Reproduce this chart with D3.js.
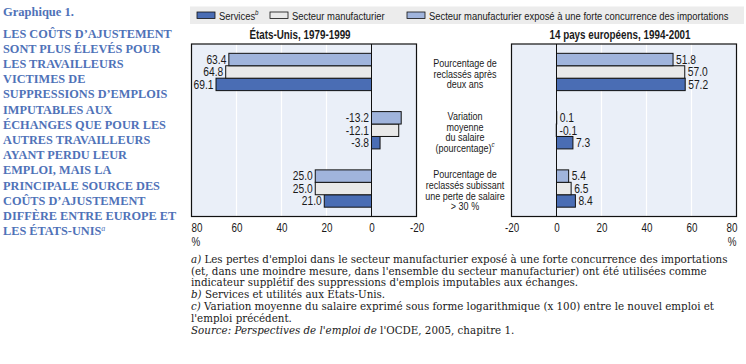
<!DOCTYPE html>
<html>
<head>
<meta charset="utf-8">
<script src="https://cdn.jsdelivr.net/npm/d3@7"></script>
<style>
  body { margin: 0; background: #fff; }
  svg { display: block; }
</style>
</head>
<body>
<div id="chart"></div>
<script>
const categories = [
  ['Pourcentage de', 'reclassés après', 'deux ans'],
  ['Variation', 'moyenne', 'du salaire', '(pourcentage)'],
  ['Pourcentage de', 'reclassés subissant', 'une perte de salaire', '> 30 %']
]
const seriesNames = ['Services', 'Secteur manufacturier', 'Secteur manufacturier exposé à une forte concurrence des importations']
const barOrder = [2, 1, 0]  // top to bottom inside a group

const usServices = [69.1, -3.8, 21.0]
const usManuf = [64.8, -12.1, 25.0]
const usExposed = [63.4, -13.2, 25.0]

const euServices = [57.2, 7.3, 8.4]
const euManuf = [57.0, -0.1, 6.5]
const euExposed = [51.8, 0.1, 5.4]

const tickValues = [80, 60, 40, 20, 0, -20]

const headingLines = [
  'LES COÛTS D’AJUSTEMENT', 'SONT PLUS ÉLEVÉS POUR', 'LES TRAVAILLEURS', 'VICTIMES DE',
  'SUPPRESSIONS D’EMPLOIS', 'IMPUTABLES AUX', 'ÉCHANGES QUE POUR LES', 'AUTRES TRAVAILLEURS',
  'AYANT PERDU LEUR', 'EMPLOI, MAIS LA', 'PRINCIPALE SOURCE DES', 'COÛTS D’AJUSTEMENT',
  'DIFFÈRE ENTRE EUROPE ET', 'LES ÉTATS-UNIS'
]

const width = 746
const height = 364
const colors = ['#4a6db4', '#e9e9e9', '#a0b4dc']
const blue = '#4f72b8'
const sans = '"Liberation Sans", Arial, sans-serif'
const serif = '"Liberation Serif", "DejaVu Serif", serif'
const squeeze = 0.82   // fake Arial Narrow

const fmt = d3.formatLocale({ decimal: '.', thousands: ',', grouping: [3], currency: ['', ''], minus: '-' })

const svg = d3.select('#chart')
  .append('svg')
    .attr('width', width)
    .attr('height', height)

// text in a condensed look, anchored at x, y
function nText (parent, x, y, size) {
  return parent.append('text')
    .attr('transform', `translate(${x},${y}) scale(${squeeze},1)`)
    .attr('font-family', sans)
    .attr('font-size', size)
    .attr('fill', '#1a1a1a')
}

// heading on the left
svg.append('text')
  .attr('x', 3).attr('y', 16)
  .attr('font-family', serif)
  .attr('font-weight', 'bold')
  .attr('font-size', 12.5)
  .attr('fill', blue)
  .text('Graphique 1.')

const heading = svg.append('text')
  .attr('font-family', serif)
  .attr('font-weight', 'bold')
  .attr('font-size', 12.3)
  .attr('fill', blue)

headingLines.forEach((line, i) => {
  heading.append('tspan')
    .attr('x', 3)
    .attr('y', 37.5 + i * 15.2)
    .text(line)
  if (i === headingLines.length - 1) {
    heading.append('tspan')
      .attr('dy', -4)
      .attr('font-size', 8)
      .attr('font-style', 'italic')
      .attr('font-weight', 'normal')
      .text('a')
  }
})

// legend
svg.append('rect')
  .attr('x', 190).attr('y', 6.5)
  .attr('width', 554).attr('height', 17.5)
  .attr('fill', '#ececec')

const legendX = [197, 270, 407]
seriesNames.forEach((name, i) => {
  svg.append('rect')
    .attr('x', legendX[i]).attr('y', 12)
    .attr('width', 18).attr('height', 6.5)
    .attr('fill', colors[i])
    .attr('stroke', '#111')
    .attr('stroke-width', 0.8)
  const t = nText(svg, legendX[i] + 22, 19.5, 11.5).text(name)
  if (i === 0) {
    t.append('tspan')
      .attr('dy', -4.5)
      .attr('font-size', 7.5)
      .attr('font-style', 'italic')
      .text('b')
  }
})

// shared band scales
const y0 = d3.scaleBand()
  .domain(d3.range(categories.length))
  .range([44, 216.5])
  .paddingInner(0.36)
  .paddingOuter(0.16)

const y1 = d3.scaleBand()
  .domain(barOrder)
  .range([0, y0.bandwidth()])

function drawPanel (opts) {
  const { x, title, values, side } = opts
  const [x0, x1] = x.range()
  const left = Math.min(x0, x1)
  const right = Math.max(x0, x1)
  const top = 44
  const bottom = 216.5
  const g = svg.append('g')

  g.append('rect')
    .attr('x', left).attr('y', top)
    .attr('width', right - left).attr('height', bottom - top)
    .attr('fill', '#eaeff8')

  g.selectAll('line.grid')
    .data(tickValues.filter(v => v !== 0 && v !== 80 && v !== -20))
    .join('line')
      .attr('class', 'grid')
      .attr('x1', d => x(d)).attr('x2', d => x(d))
      .attr('y1', top).attr('y2', bottom)
      .attr('stroke', '#fff')
      .attr('stroke-width', 1.2)

  const rows = []
  values.forEach((vals, s) => {
    vals.forEach((v, c) => rows.push({ s, c, v }))
  })

  g.selectAll('rect.bar')
    .data(rows)
    .join('rect')
      .attr('class', 'bar')
      .attr('x', d => Math.min(x(0), x(d.v)))
      .attr('y', d => y0(d.c) + y1(d.s))
      .attr('width', d => Math.abs(x(d.v) - x(0)))
      .attr('height', y1.bandwidth())
      .attr('fill', d => colors[d.s])
      .attr('stroke', '#111')
      .attr('stroke-width', 1)

  g.append('line')
    .attr('x1', x(0)).attr('x2', x(0))
    .attr('y1', top).attr('y2', bottom)
    .attr('stroke', '#111')
    .attr('stroke-width', 1)

  g.append('rect')
    .attr('x', left).attr('y', top)
    .attr('width', right - left).attr('height', bottom - top)
    .attr('fill', 'none')
    .attr('stroke', '#111')
    .attr('stroke-width', 1.2)

  rows.forEach(d => {
    const lx = side === 'left'
      ? Math.min(x(0), x(d.v)) - 2.5
      : Math.max(x(0), x(d.v)) + 3
    nText(g, lx, y0(d.c) + y1(d.s) + y1.bandwidth() / 2 + 4.3, 12.5)
      .attr('text-anchor', side === 'left' ? 'end' : 'start')
      .text(fmt.format('.1f')(d.v))
  })

  const ax = g.append('g')
    .attr('transform', `translate(0,${bottom})`)
    .call(d3.axisBottom(x).tickValues(tickValues).tickSize(0).tickPadding(7).tickFormat(fmt.format('d')))
  ax.select('.domain').remove()
  ax.selectAll('text')
    .attr('font-family', sans)
    .attr('font-size', 12)
    .attr('fill', '#1a1a1a')
    .attr('transform', d => {
      const shift = d === 80 ? (side === 'left' ? 5 : -5) : 0
      return `translate(${shift},0) scale(${squeeze},1)`
    })

  nText(g, side === 'left' ? left : right, 245.5, 12)
    .attr('text-anchor', side === 'left' ? 'start' : 'end')
    .text('%')

  nText(g, (left + right) / 2 - 4, 39, 12)
    .attr('text-anchor', 'middle')
    .attr('font-weight', 'bold')
    .text(title)
}

drawPanel({
  x: d3.scaleLinear().domain([80, -20]).range([191.5, 416.5]),
  title: 'États-Unis, 1979-1999',
  values: [usServices, usManuf, usExposed],
  side: 'left'
})

drawPanel({
  x: d3.scaleLinear().domain([-20, 80]).range([511.5, 736.5]),
  title: '14 pays européens, 1994-2001',
  values: [euServices, euManuf, euExposed],
  side: 'right'
})

// category labels between the panels
categories.forEach((lines, c) => {
  const cy = y0(c) + y0.bandwidth() / 2 + 2
  lines.forEach((line, i) => {
    const t = nText(svg, 465, cy + (i - (lines.length - 1) / 2) * 10.6 + 3.8, 11)
      .attr('text-anchor', 'middle')
      .text(line)
    if (c === 1 && i === lines.length - 1) {
      t.append('tspan')
        .attr('dy', -4.5)
        .attr('font-size', 7.5)
        .attr('font-style', 'italic')
        .text('c')
    }
  })
})

// footnotes
const notes = [
  [['a)', true], [' Les pertes d\'emploi dans le secteur manufacturier exposé à une forte concurrence des importations', false]],
  [['(et, dans une moindre mesure, dans l\'ensemble du secteur manufacturier) ont été utilisées comme', false]],
  [['indicateur supplétif des suppressions d\'emplois imputables aux échanges.', false]],
  [['b)', true], [' Services et utilités aux États-Unis.', false]],
  [['c)', true], [' Variation moyenne du salaire exprimé sous forme logarithmique (x 100) entre le nouvel emploi et', false]],
  [['l\'emploi précédent.', false]],
  [['Source: Perspectives de l\'emploi de', true], [' l\'OCDE, 2005, chapitre 1.', false]]
]
const noteY = [263, 274.5, 286, 298, 310, 321.5, 334]

const foot = svg.append('text')
  .attr('font-family', '"DejaVu Serif", serif')
  .attr('font-size', 10.3)
  .attr('fill', '#1a1a1a')

notes.forEach((parts, i) => {
  parts.forEach(([txt, it], j) => {
    const ts = foot.append('tspan').text(txt)
    if (j === 0) ts.attr('x', 191).attr('y', noteY[i])
    if (it) ts.attr('font-style', 'italic')
  })
})
</script>
</body>
</html>
